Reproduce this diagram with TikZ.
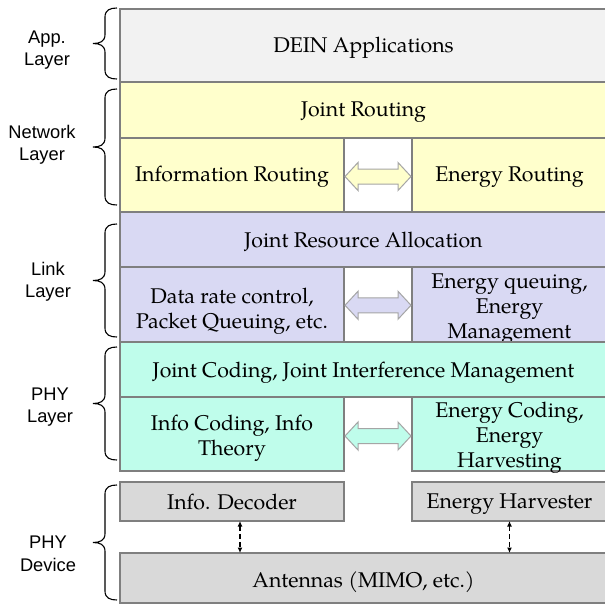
\documentclass[tikz,border=0pt]{standalone}
\usepackage{fontspec}
\setmainfont{TeX Gyre Pagella}
\newfontfamily\lblfont{Liberation Sans}
\usetikzlibrary{calc,arrows.meta}
\definecolor{bordergray}{HTML}{7F7F7F}
\definecolor{appfill}{HTML}{F2F2F2}
\definecolor{netfill}{HTML}{FFFFCC}
\definecolor{linkfill}{HTML}{D9D9F3}
\definecolor{phyfill}{HTML}{BFFDEB}
\definecolor{devfill}{HTML}{D9D9D9}
\newcommand\bxfont{\fontsize{21.3}{25}\selectfont}
\newcommand\lbfont{\lblfont\fontsize{18.3}{22.5}\selectfont}
% box: name, x1, y1, x2, y2, fill, text, text offset
\newcommand\bx[8]{\node[box, fill=#6, minimum width={#4-#2}, minimum height={#5-#3}] (#1) at (#2,#3) {};
  \node[boxtext] (#1-t) at ($(#1.center)+(0,#8)$) {#7};}
\newcommand\dblarr[4]{\path[fatarrow, fill=#3] let \p1=($(#1.east)+(0,#4)$), \p2=($(#2.west)+(0,#4)$) in
  (\x1+1pt,\y1) -- (\x1+14pt,\y1+14pt) -- (\x1+14pt,\y1+7.5pt) -- (\x2-14pt,\y1+7.5pt) -- (\x2-14pt,\y1+14pt)
  -- (\x2-1pt,\y1) -- (\x2-14pt,\y1-14pt) -- (\x2-14pt,\y1-7.5pt) -- (\x1+14pt,\y1-7.5pt) -- (\x1+14pt,\y1-14pt) -- cycle;}
\newcommand\mybrace[2]{\draw[bracestyle] (117,#1) .. controls (110,#1) and (105,#1+2) .. (105,#1+9)
  -- (105,{(#1+#2)/2-9}) .. controls (105,{(#1+#2)/2-2}) and (100,{(#1+#2)/2}) .. (93,{(#1+#2)/2})
  .. controls (100,{(#1+#2)/2}) and (105,{(#1+#2)/2+2}) .. (105,{(#1+#2)/2+9})
  -- (105,#2-9) .. controls (105,#2-2) and (110,#2) .. (117,#2);}
\begin{document}
\begin{tikzpicture}[x=1pt,y=-1pt,
  box/.style={draw=bordergray, line width=2pt, anchor=north west, inner sep=0pt, outer sep=0pt},
  boxtext/.style={align=center, font=\bxfont, inner sep=0pt},
  fatarrow/.style={draw=bordergray!70, line width=1pt},
  bracestyle/.style={draw=black, line width=1.1pt},
  lbl/.style={align=center, font=\lbfont, inner sep=0pt},
  dasharr/.style={line width=1.2pt, dash pattern=on 5pt off 3pt, {Latex[length=5.5pt,width=5pt]}-{Latex[length=5.5pt,width=5pt]}}]
\useasboundingbox (0,0) rectangle (605,606);
\clip (0,0) rectangle (605,606);
\fill[white] (0,0) rectangle (605,606);
% application layer
\bx{app}{120}{8.5}{607}{82}{appfill}{DEIN Applications}{2.5}
% network layer
\bx{jr}{120}{82}{607}{137.5}{netfill}{Joint Routing}{2.5}
\bx{ir}{120}{137.5}{344}{211.5}{netfill}{Information Routing}{2.5}
\bx{er}{412}{137.5}{607}{211.5}{netfill}{Energy Routing}{2.5}
% link layer
\bx{jra}{120}{211.5}{607}{266.5}{linkfill}{Joint Resource Allocation}{3}
\bx{drc}{120}{266.5}{344}{342}{linkfill}{Data rate control,\\Packet Queuing, etc.}{7}
\bx{eq}{412}{266.5}{607}{342}{linkfill}{Energy queuing,\\Energy\\Management}{5}
% phy layer
\bx{jc}{120}{342}{607}{397}{phyfill}{Joint Coding, Joint Interference Management}{3}
\bx{ic}{120}{397}{344}{471}{phyfill}{Info Coding, Info\\Theory}{4}
\bx{ec}{412}{397}{607}{471}{phyfill}{Energy Coding,\\Energy\\Harvesting}{4}
% phy device
\bx{idec}{120}{482}{344}{521}{devfill}{Info. Decoder}{0}
\bx{eh}{412}{482}{607}{521}{devfill}{Energy Harvester}{3}
\bx{ant}{120}{553}{607}{603}{devfill}{Antennas (MIMO, etc.)}{4}
% fat double arrows
\dblarr{ir}{er}{netfill}{2}
\dblarr{drc}{eq}{linkfill}{1}
\dblarr{ic}{ec}{phyfill}{2}
% dashed arrows
\coordinate (d1) at ($(idec.south)+(8,0)$);
\coordinate (d2) at ($(eh.south)+(0,0)$);
\draw[dasharr] (d1) -- (d1 |- ant.north);
\draw[dasharr] (d2) -- (d2 |- ant.north);
% braces
\mybrace{8}{79}
\mybrace{89}{205}
\mybrace{224}{337}
\mybrace{347}{460}
\mybrace{485}{600}
% labels
\node[lbl] (lapp) at (47,50) {App.\\Layer};
\node[lbl] (lnet) at (42,145) {Network\\Layer};
\node[lbl] (llink) at (48,282) {Link\\Layer};
\node[lbl] (lphy) at (50,407) {PHY\\Layer};
\node[lbl] (ldev) at (48,554) {PHY\\Device};
\end{tikzpicture}
\end{document}
